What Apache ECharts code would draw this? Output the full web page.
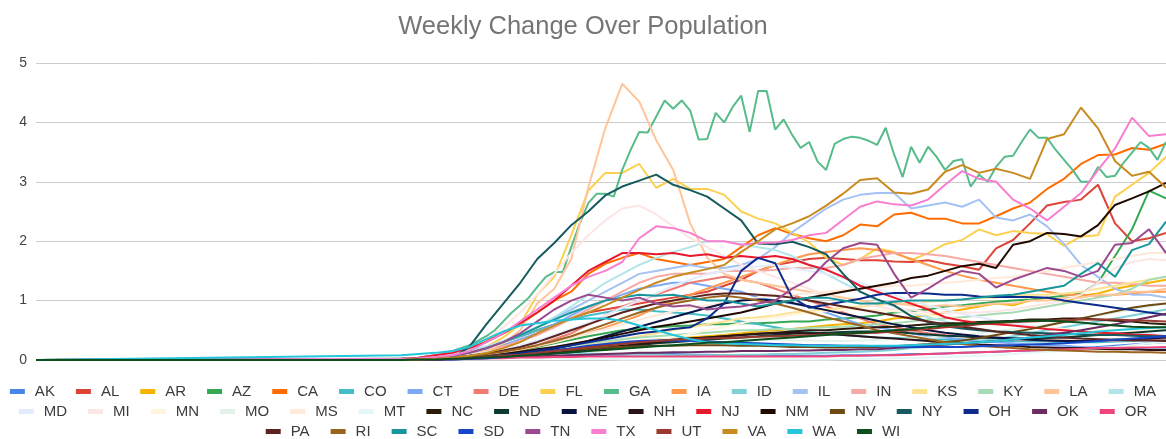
<!DOCTYPE html>
<html>
<head>
<meta charset="utf-8">
<title>Weekly Change Over Population</title>
<script src="https://cdn.jsdelivr.net/npm/echarts@6.0.0/dist/echarts.min.js"></script>
<style>
  html, body { margin: 0; padding: 0; background: #fff; }
  #chart { width: 1166px; height: 439px; }
</style>
</head>
<body>
<div id="chart"></div>
<script>
// day index of the x axis: 0 .. LAST_DAY, every state is 0 until FIRST_DAY
const LAST_DAY = 133;
const FIRST_DAY = 43;
// most states are read every 2nd day, GA every day
const DAILY = ['GA'];

const states = ['AK','AL','AR','AZ','CA','CO','CT','DE','FL','GA','IA','ID','IL','IN','KS','KY','LA','MA',
  'MD','MI','MN','MO','MS','MT','NC','ND','NE','NH','NJ','NM','NV','NY','OH','OK','OR',
  'PA','RI','SC','SD','TN','TX','UT','VA','WA','WI'];

const colors = ['#4a86e8','#db4437','#f4b400','#34a853','#ff6d00','#46bdc6','#7baaf7','#f07b72','#fcd04f','#57bb8a',
  '#ff994d','#7ed1d7','#a4c2f4','#f7aaa5','#fde293','#a8dab5','#ffc599','#b3e5e8',
  '#e3ecfd','#fce6e4','#fef5dc','#e4f3e8','#ffe9da','#e5f6f7','#2a1c08','#0c3b32','#0a1442','#2b1418',
  '#e8192c','#200a00','#6b4a13','#145a5e','#0c2b8c','#6b2c62','#f0467a',
  '#5c2420','#9a6420','#17979c','#1747c8','#9b4a90','#f87fd0','#99392f','#c98a20','#26c6da','#0b4f1d'];

const yTicks = [0, 1, 2, 3, 4, 5];

const AK = [0,0,0.01,0.01,0.02,0.03,0.04,0.05,0.06,0.07, 0.08,0.08,0.09,0.09,0.1,0.1,0.1,0.09,0.09,0.08, 0.08,0.08,0.07,0.07,0.07,0.07,0.08,0.08,0.08,0.09, 0.1,0.1,0.11,0.12,0.13,0.14,0.15,0.16,0.17,0.18, 0.2,0.22,0.24,0.26,0.28,0.3];
const AL = [0.01,0.02,0.04,0.07,0.12,0.2,0.3,0.4,0.5,0.6, 0.7,0.8,0.85,0.9,0.95,1.0,1.05,1.1,1.15,1.25, 1.35,1.5,1.6,1.65,1.7,1.72,1.7,1.68,1.68,1.66, 1.65,1.68,1.62,1.58,1.52,1.88,2.02,2.3,2.6,2.66, 2.7,2.95,2.3,2.0,2.05,2.14];
const AR = [0,0.01,0.02,0.03,0.05,0.07,0.1,0.13,0.16,0.19, 0.22,0.25,0.28,0.3,0.32,0.34,0.36,0.38,0.4,0.42, 0.45,0.48,0.5,0.52,0.55,0.58,0.6,0.62,0.65,0.7, 0.72,0.75,0.8,0.85,0.9,0.95,0.92,1.0,1.05,0.98, 1.08,1.12,1.2,1.25,1.3,1.35];
const AZ = [0,0.01,0.02,0.03,0.05,0.08,0.12,0.17,0.22,0.28, 0.34,0.4,0.45,0.5,0.52,0.55,0.57,0.58,0.6,0.6, 0.62,0.62,0.63,0.65,0.65,0.68,0.7,0.72,0.75,0.8, 0.82,0.85,0.9,0.92,0.95,0.98,1.0,1.02,1.05,1.08, 1.12,1.3,1.75,2.2,2.85,2.72];
const CA = [0.02,0.03,0.05,0.1,0.2,0.32,0.45,0.6,0.8,1.0, 1.15,1.45,1.62,1.72,1.8,1.7,1.65,1.6,1.65,1.7, 1.9,2.1,2.22,2.12,2.05,2.0,2.1,2.28,2.25,2.45, 2.48,2.38,2.38,2.3,2.3,2.42,2.55,2.65,2.88,3.05, 3.3,3.45,3.46,3.57,3.54,3.64];
const CO = [0.02,0.04,0.07,0.1,0.15,0.22,0.3,0.4,0.5,0.6, 0.68,0.75,0.8,0.85,0.85,0.82,0.8,0.78,0.75,0.7, 0.65,0.6,0.55,0.5,0.47,0.44,0.42,0.4,0.38,0.37, 0.36,0.35,0.34,0.33,0.33,0.32,0.32,0.31,0.31,0.3, 0.3,0.3,0.31,0.32,0.33,0.34];
const CT = [0.01,0.02,0.04,0.07,0.12,0.18,0.25,0.35,0.45,0.6, 0.75,0.9,1.0,1.1,1.2,1.25,1.3,1.3,1.25,1.2, 1.15,1.05,1.0,0.95,0.9,0.8,0.7,0.6,0.55,0.5, 0.45,0.4,0.38,0.35,0.32,0.3,0.28,0.26,0.25,0.24, 0.22,0.2,0.2,0.19,0.18,0.18];
const DE = [0,0.01,0.02,0.03,0.05,0.08,0.12,0.17,0.25,0.35, 0.45,0.6,0.75,0.9,1.0,1.1,1.2,1.3,1.35,1.4, 1.35,1.3,1.2,1.1,1.0,0.9,0.8,0.7,0.6,0.55, 0.5,0.45,0.42,0.4,0.38,0.36,0.35,0.34,0.33,0.33, 0.32,0.32,0.33,0.34,0.35,0.36];
const FL = [0.02,0.03,0.05,0.08,0.13,0.22,0.38,0.6,1.1,1.4, 2.1,2.85,3.15,3.15,3.3,2.9,3.05,2.88,2.88,2.78, 2.5,2.38,2.3,2.14,1.98,1.72,1.6,1.7,1.88,1.82, 1.68,1.8,1.95,2.02,2.2,2.1,2.17,2.14,2.12,1.92, 2.08,2.1,2.75,2.95,3.15,3.42];
const GA = [0.02,0.03,0.04,0.06,0.08,0.11,0.15,0.2,0.25,0.32, 0.4,0.5,0.65,0.8,0.92,1.05,
  1.23,1.4,1.48,1.48,1.9,2.3,2.64,2.8,2.8,2.75,3.2,3.54,3.84,3.83,
  4.1,4.37,4.23,4.37,4.2,3.71,3.72,4.16,4.0,4.26, 4.45,3.84,4.53,4.53,3.88,4.05,3.79,3.57,3.67,3.34,
  3.2,3.64,3.72,3.76,3.74,3.69,3.62,3.91,3.46,3.08, 3.59,3.32,3.59,3.42,3.2,3.35,3.38,2.92,3.12,3.0,
  3.25,3.42,3.44,3.67,3.88,3.74,3.74,3.54,3.37,3.2, 3.0,3.0,3.25,3.08,3.1,3.32,3.49,3.67,3.57,3.37, 3.67];
const IA = [0,0.01,0.02,0.03,0.05,0.08,0.12,0.17,0.23,0.3, 0.38,0.46,0.55,0.65,0.75,0.88,1.0,1.1,1.2,1.3, 1.4,1.5,1.6,1.7,1.78,1.82,1.85,1.88,1.85,1.8, 1.7,1.6,1.5,1.42,1.35,1.3,1.25,1.2,1.15,1.1, 1.1,1.08,1.1,1.12,1.15,1.15];
const ID = [0.01,0.02,0.03,0.05,0.07,0.09,0.1,0.11,0.12,0.12, 0.12,0.11,0.1,0.1,0.09,0.09,0.08,0.08,0.08,0.08, 0.09,0.09,0.1,0.1,0.11,0.12,0.13,0.14,0.15,0.17, 0.2,0.22,0.25,0.28,0.32,0.35,0.4,0.45,0.5,0.55, 0.6,0.65,0.7,0.75,0.8,0.85];
const IL = [0.01,0.02,0.04,0.07,0.12,0.2,0.3,0.42,0.55,0.7, 0.85,1.0,1.15,1.3,1.45,1.5,1.55,1.6,1.55,1.55, 1.6,1.7,1.9,2.15,2.35,2.55,2.7,2.78,2.81,2.81, 2.55,2.6,2.65,2.58,2.7,2.4,2.35,2.45,2.25,1.95, 1.6,1.4,1.2,1.1,1.1,1.05];
const IN = [0.01,0.02,0.04,0.07,0.11,0.16,0.23,0.32,0.42,0.55, 0.7,0.85,1.0,1.15,1.3,1.4,1.45,1.45,1.45,1.5, 1.5,1.5,1.52,1.55,1.55,1.55,1.6,1.7,1.75,1.8, 1.8,1.78,1.75,1.7,1.65,1.6,1.55,1.5,1.45,1.4, 1.35,1.3,1.3,1.28,1.25,1.25];
const KS = [0,0.01,0.02,0.03,0.04,0.06,0.08,0.1,0.13,0.16, 0.2,0.25,0.3,0.35,0.4,0.45,0.5,0.55,0.6,0.65, 0.7,0.72,0.75,0.8,0.82,0.85,0.88,0.9,0.92,0.95, 0.95,0.98,1.0,1.02,1.05,1.05,1.08,1.1,1.1,1.12, 1.15,1.2,1.25,1.3,1.35,1.4];
const KY = [0,0.01,0.02,0.03,0.05,0.07,0.1,0.13,0.16,0.2, 0.24,0.28,0.32,0.35,0.38,0.4,0.42,0.44,0.46,0.48, 0.5,0.5,0.52,0.52,0.54,0.55,0.56,0.58,0.6,0.62, 0.65,0.68,0.7,0.72,0.75,0.78,0.8,0.85,0.9,0.95, 1.0,1.05,1.1,1.2,1.35,1.4];
const LA = [0.01,0.02,0.03,0.05,0.08,0.15,0.28,0.5,0.95,1.2, 1.7,2.9,3.9,4.65,4.35,3.7,3.2,2.3,1.72,1.45, 1.35,1.3,1.25,1.2,1.15,1.1,1.05,1.0,0.95,0.95, 0.92,0.9,0.92,0.9,0.92,0.95,0.95,1.0,1.0,1.05, 1.05,1.1,1.1,1.15,1.15,1.2];
const MA = [0.02,0.04,0.07,0.11,0.16,0.23,0.32,0.43,0.56,0.72, 0.9,1.1,1.3,1.45,1.6,1.72,1.82,1.9,2.0,2.0, 1.95,1.9,1.85,1.75,1.6,1.45,1.3,1.15,1.0,0.9, 0.8,0.72,0.65,0.58,0.52,0.48,0.45,0.42,0.4,0.38, 0.36,0.35,0.34,0.33,0.32,0.32];
const MD = [0.01,0.02,0.04,0.06,0.09,0.13,0.18,0.25,0.33,0.42, 0.52,0.63,0.75,0.88,1.0,1.12,1.25,1.35,1.45,1.5, 1.55,1.58,1.6,1.55,1.5,1.45,1.38,1.3,1.2,1.1, 1.0,0.92,0.85,0.78,0.72,0.66,0.62,0.58,0.55,0.52, 0.5,0.48,0.46,0.45,0.44,0.43];
const MI = [0.02,0.04,0.07,0.12,0.2,0.35,0.55,0.8,1.1,1.45, 1.8,2.1,2.35,2.55,2.6,2.45,2.25,2.05,1.9,1.75, 1.6,1.5,1.4,1.3,1.2,1.1,1.0,0.95,0.9,0.85, 0.85,0.8,0.8,0.8,0.8,0.82,0.85,0.9,0.95,1.0, 1.1,1.3,1.55,1.65,1.7,1.68];
const MN = [0,0.01,0.01,0.02,0.03,0.04,0.05,0.07,0.09,0.11, 0.14,0.17,0.2,0.24,0.28,0.33,0.38,0.44,0.5,0.56, 0.62,0.68,0.72,0.76,0.8,0.82,0.84,0.85,0.84,0.82, 0.8,0.76,0.72,0.68,0.64,0.6,0.58,0.56,0.54,0.52, 0.5,0.5,0.5,0.5,0.5,0.5];
const MO = [0,0.01,0.02,0.03,0.05,0.07,0.09,0.12,0.15,0.18, 0.21,0.24,0.27,0.3,0.32,0.34,0.35,0.36,0.36,0.36, 0.35,0.35,0.34,0.33,0.33,0.32,0.32,0.33,0.34,0.35, 0.36,0.38,0.4,0.42,0.45,0.48,0.52,0.55,0.6,0.65, 0.7,0.75,0.8,0.85,0.9,0.95];
const MS = [0,0.01,0.02,0.04,0.06,0.09,0.13,0.18,0.24,0.3, 0.37,0.45,0.52,0.6,0.68,0.75,0.82,0.88,0.92,0.96, 1.0,1.05,1.08,1.1,1.12,1.15,1.18,1.2,1.22,1.25, 1.25,1.28,1.3,1.32,1.35,1.38,1.4,1.45,1.5,1.55, 1.6,1.65,1.7,1.75,1.8,1.8];
const MT = [0,0,0.01,0.01,0.02,0.02,0.03,0.03,0.03,0.03, 0.02,0.02,0.02,0.01,0.01,0.01,0.01,0.01,0.01,0.01, 0.01,0.01,0.01,0.01,0.01,0.01,0.02,0.02,0.02,0.03, 0.03,0.04,0.05,0.06,0.07,0.08,0.1,0.12,0.14,0.16, 0.18,0.2,0.22,0.25,0.28,0.3];
const NC = [0,0.01,0.02,0.03,0.04,0.06,0.08,0.1,0.13,0.16, 0.19,0.22,0.25,0.28,0.3,0.32,0.34,0.36,0.38,0.4, 0.42,0.44,0.46,0.48,0.5,0.5,0.52,0.54,0.55,0.56, 0.58,0.6,0.62,0.62,0.64,0.65,0.66,0.68,0.68,0.7, 0.7,0.68,0.66,0.65,0.62,0.6];
const ND = [0,0.01,0.01,0.02,0.03,0.04,0.05,0.07,0.09,0.11, 0.13,0.16,0.19,0.22,0.25,0.28,0.3,0.32,0.34,0.36, 0.38,0.4,0.42,0.44,0.45,0.46,0.47,0.48,0.48,0.47, 0.45,0.43,0.41,0.4,0.38,0.37,0.36,0.36,0.37,0.38, 0.4,0.42,0.44,0.46,0.48,0.5];
const NE = [0,0.01,0.01,0.02,0.03,0.05,0.07,0.1,0.14,0.19, 0.25,0.32,0.4,0.48,0.56,0.64,0.72,0.8,0.88,0.95, 1.0,1.02,1.0,0.96,0.9,0.84,0.78,0.72,0.66,0.6, 0.55,0.5,0.46,0.43,0.4,0.38,0.36,0.34,0.33,0.32, 0.32,0.33,0.34,0.35,0.36,0.38];
const NH = [0,0.01,0.01,0.02,0.03,0.04,0.06,0.08,0.1,0.12, 0.15,0.18,0.21,0.24,0.27,0.3,0.33,0.36,0.38,0.4, 0.42,0.44,0.45,0.46,0.45,0.44,0.42,0.4,0.38,0.36, 0.34,0.32,0.3,0.28,0.26,0.25,0.24,0.22,0.21,0.2, 0.2,0.19,0.18,0.18,0.17,0.17];
const NJ = [0.02,0.04,0.08,0.12,0.2,0.3,0.45,0.62,0.8,1.0, 1.25,1.5,1.65,1.8,1.8,1.78,1.8,1.75,1.78,1.72, 1.75,1.72,1.75,1.7,1.6,1.52,1.4,1.25,1.15,1.05, 0.95,0.85,0.72,0.66,0.62,0.6,0.58,0.55,0.52,0.5, 0.48,0.46,0.45,0.43,0.42,0.4];
const NM = [0,0,0.01,0.02,0.04,0.06,0.1,0.14,0.18,0.22, 0.27,0.32,0.38,0.44,0.5,0.56,0.6,0.65,0.7,0.75, 0.8,0.87,0.95,1.0,1.05,1.1,1.15,1.2,1.25,1.3, 1.38,1.42,1.5,1.58,1.62,1.55,1.94,2.0,2.14,2.12, 2.08,2.27,2.61,2.72,2.84,2.98];
const NV = [0,0.01,0.02,0.03,0.05,0.07,0.09,0.11,0.13,0.15, 0.17,0.19,0.21,0.22,0.23,0.24,0.24,0.25,0.25,0.25, 0.24,0.24,0.23,0.22,0.22,0.21,0.21,0.22,0.22,0.23, 0.25,0.27,0.3,0.33,0.37,0.42,0.47,0.52,0.58,0.64, 0.7,0.76,0.82,0.88,0.92,0.95];
const NY = [0.02,0.02,0.03,0.03,0.22,0.6,0.95,1.3,1.7,1.97, 2.27,2.5,2.77,2.92,3.02,3.12,2.95,2.86,2.75,2.55, 2.35,1.96,1.95,1.99,1.9,1.78,1.45,1.15,1.02,0.92, 0.74,0.64,0.57,0.53,0.5,0.48,0.47,0.46,0.45,0.44, 0.43,0.42,0.42,0.41,0.4,0.4];
const OH = [0,0.01,0.01,0.02,0.03,0.05,0.08,0.12,0.16,0.2, 0.25,0.3,0.35,0.4,0.45,0.48,0.52,0.55,0.7,0.95, 1.5,1.72,1.63,1.05,0.88,0.93,0.98,1.03,1.1,1.13, 1.13,1.12,1.1,1.1,1.07,1.06,1.06,1.06,1.05,1.0, 0.96,0.92,0.88,0.84,0.8,0.76];
const OK = [0,0,0.01,0.01,0.02,0.03,0.04,0.05,0.06,0.07, 0.08,0.09,0.1,0.11,0.12,0.12,0.13,0.13,0.14,0.14, 0.15,0.15,0.15,0.16,0.16,0.17,0.17,0.18,0.18,0.2, 0.22,0.24,0.26,0.28,0.3,0.32,0.35,0.38,0.42,0.46, 0.5,0.55,0.6,0.66,0.72,0.78];
const OR = [0,0.01,0.01,0.02,0.02,0.03,0.03,0.04,0.04,0.05, 0.05,0.06,0.06,0.06,0.06,0.06,0.06,0.06,0.06,0.06, 0.06,0.06,0.06,0.06,0.06,0.06,0.07,0.07,0.08,0.08, 0.09,0.1,0.11,0.12,0.13,0.14,0.15,0.16,0.17,0.18, 0.19,0.2,0.2,0.21,0.21,0.22];
const PA = [0,0.01,0.02,0.04,0.07,0.11,0.16,0.22,0.3,0.4, 0.5,0.6,0.7,0.8,0.88,0.95,1.0,1.05,1.1,1.12, 1.12,1.1,1.08,1.05,1.0,0.95,0.9,0.85,0.8,0.75, 0.7,0.65,0.6,0.56,0.52,0.48,0.45,0.42,0.4,0.38, 0.36,0.35,0.34,0.33,0.33,0.32];
const RI = [0,0.01,0.02,0.04,0.07,0.1,0.14,0.19,0.25,0.32, 0.4,0.5,0.6,0.7,0.8,0.88,0.95,1.0,1.05,1.08, 1.05,1.0,0.95,0.88,0.8,0.72,0.65,0.58,0.5,0.45, 0.4,0.35,0.3,0.27,0.24,0.22,0.2,0.18,0.17,0.16, 0.15,0.14,0.14,0.13,0.13,0.12];
const SC = [0.01,0.02,0.04,0.07,0.12,0.2,0.3,0.42,0.55,0.68, 0.8,0.9,1.0,1.05,1.1,1.08,1.1,1.05,1.0,1.0, 0.95,0.9,0.95,1.0,1.05,1.05,1.0,0.95,0.95,0.98, 1.0,1.0,1.0,1.02,1.05,1.08,1.1,1.15,1.2,1.25, 1.45,1.63,1.4,1.85,1.95,2.33];
const SD = [0,0,0.01,0.01,0.02,0.03,0.05,0.08,0.12,0.16, 0.2,0.24,0.27,0.3,0.32,0.33,0.33,0.32,0.31,0.3, 0.29,0.28,0.27,0.26,0.25,0.25,0.24,0.24,0.23,0.23, 0.22,0.22,0.22,0.22,0.23,0.24,0.25,0.26,0.27,0.28, 0.3,0.32,0.34,0.36,0.38,0.4];
const TN = [0.01,0.02,0.04,0.07,0.12,0.2,0.3,0.45,0.65,0.85, 1.0,1.1,1.05,1.0,1.05,0.95,0.9,0.92,0.85,0.88, 0.9,0.95,1.0,1.2,1.35,1.65,1.88,1.97,1.94,1.45, 1.05,1.2,1.38,1.5,1.45,1.22,1.35,1.45,1.55,1.5, 1.4,1.5,1.94,1.97,2.2,1.8];
const TX = [0.02,0.03,0.05,0.08,0.15,0.3,0.45,0.65,0.85,1.05, 1.25,1.4,1.5,1.65,2.05,2.25,2.22,2.14,2.0,2.0, 1.94,1.97,1.98,2.02,2.1,2.14,2.36,2.58,2.67,2.62, 2.6,2.7,2.95,3.18,3.05,3.0,2.7,2.55,2.35,2.58, 2.81,3.2,3.56,4.08,3.77,3.8];
const UT = [0,0.01,0.01,0.02,0.03,0.05,0.07,0.09,0.12,0.15, 0.18,0.21,0.24,0.27,0.3,0.32,0.34,0.35,0.36,0.37, 0.38,0.39,0.4,0.41,0.42,0.43,0.44,0.45,0.46,0.48, 0.5,0.52,0.55,0.57,0.6,0.62,0.64,0.65,0.66,0.67, 0.68,0.68,0.68,0.67,0.66,0.65];
const VA = [0,0.01,0.02,0.04,0.07,0.12,0.2,0.3,0.45,0.58, 0.7,0.8,0.92,1.05,1.18,1.3,1.4,1.47,1.53,1.6, 1.82,2.0,2.2,2.3,2.42,2.6,2.8,3.03,3.06,2.82, 2.8,2.87,3.17,3.28,3.15,3.22,3.15,3.05,3.72,3.8, 4.25,3.9,3.35,3.1,3.17,2.9];
const WA = [0.08,0.1,0.12,0.15,0.22,0.35,0.48,0.58,0.62,0.66, 0.68,0.7,0.7,0.66,0.58,0.5,0.42,0.35,0.3,0.28, 0.27,0.26,0.25,0.25,0.24,0.24,0.24,0.24,0.24,0.24, 0.25,0.26,0.27,0.28,0.3,0.32,0.35,0.38,0.4,0.42, 0.45,0.48,0.5,0.52,0.54,0.55];
const WI = [0,0.01,0.01,0.02,0.03,0.04,0.05,0.07,0.09,0.11, 0.13,0.15,0.17,0.19,0.21,0.23,0.25,0.27,0.29,0.3, 0.32,0.34,0.36,0.38,0.4,0.42,0.44,0.46,0.48,0.5, 0.52,0.55,0.58,0.6,0.62,0.64,0.65,0.66,0.66,0.65, 0.63,0.6,0.58,0.56,0.55,0.55];

const stateValues = [AK, AL, AR, AZ, CA, CO, CT, DE, FL, GA, IA, ID, IL, IN, KS, KY, LA, MA,
  MD, MI, MN, MO, MS, MT, NC, ND, NE, NH, NJ, NM, NV, NY, OH, OK, OR,
  PA, RI, SC, SD, TN, TX, UT, VA, WA, WI];

// legend rows as in the picture
const legendRows = [states.slice(0, 18), states.slice(18, 35), states.slice(35)];
const legendTops = [384, 404, 424];

const chart = echarts.init(document.getElementById('chart'));

function toPoints(name, vals) {
  const step = DAILY.includes(name) ? 1 : 2;
  const pts = [[0, 0]];
  vals.forEach((v, i) => pts.push([FIRST_DAY + i * step, v]));
  return pts;
}

const series = states.map((name, k) => ({
  name: name,
  type: 'line',
  data: toPoints(name, stateValues[k]),
  showSymbol: false,
  symbol: 'none',
  color: colors[k],
  lineStyle: { width: 2, color: colors[k] },
  emphasis: { disabled: true },
  animation: false
}));

const option = {
  backgroundColor: '#ffffff',
  animation: false,
  title: {
    text: 'Weekly Change Over Population',
    left: 'center',
    top: 14,
    padding: 0,
    textStyle: { fontFamily: 'Liberation Sans, Arial, sans-serif', fontSize: 25.5, fontWeight: 'normal', color: '#757575' }
  },
  legend: legendRows.map((row, r) => ({
    data: row,
    top: legendTops[r],
    left: 'center',
    padding: 0,
    icon: 'rect',
    itemWidth: 15,
    itemHeight: 5,
    itemGap: 21,
    textStyle: { fontFamily: 'Liberation Sans, Arial, sans-serif', fontSize: 15, color: '#3c3c3c', padding: [0, 0, 0, 5] }
  })),
  grid: { left: 36, right: 0, top: 63, bottom: 79, containLabel: false },
  xAxis: {
    type: 'value',
    min: 0,
    max: LAST_DAY,
    axisLabel: { show: false },
    axisTick: { show: false },
    axisLine: { show: false },
    splitLine: { show: false }
  },
  yAxis: {
    type: 'value',
    min: yTicks[0],
    max: yTicks[yTicks.length - 1],
    interval: 1,
    axisLabel: { fontFamily: 'Liberation Sans, Arial, sans-serif', fontSize: 14, color: '#444', margin: 9 },
    axisTick: { show: false },
    axisLine: { show: false },
    splitLine: { lineStyle: { color: '#cccccc', width: 1 } }
  },
  series: series
};

chart.setOption(option);

window.addEventListener('resize', function () {
  chart.resize();
});
</script>
</body>
</html>
